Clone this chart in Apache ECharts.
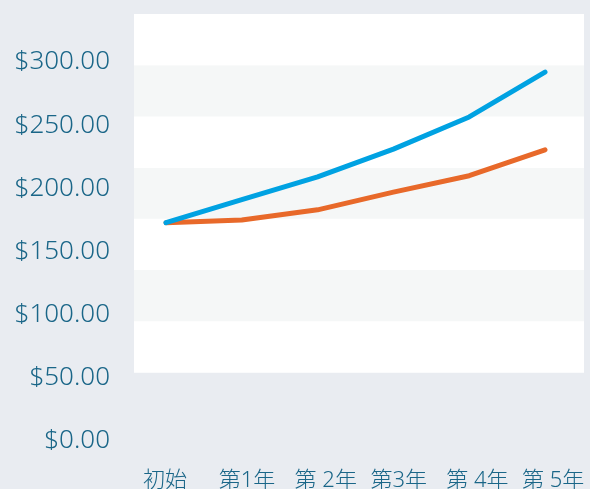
<!DOCTYPE html>
<html><head><meta charset="utf-8">
<script src="https://cdn.jsdelivr.net/npm/echarts@6/dist/echarts.min.js"></script>
<style>html,body{margin:0;padding:0;background:#e9ecf1;}#c{width:590px;height:489px;}</style>
</head><body><div id="c"></div>
<script>
const categories = ["初始", "第1年", "第 2年", "第3年", "第 4年", "第 5年"];
const blueValues = [172.8, 191, 209, 231, 256.5, 292];
const orangeValues = [172.8, 175, 183, 197, 210, 230.5];
const yTicks = [0, 50, 100, 150, 200, 250, 300];

const chart = echarts.init(document.getElementById('c'));
chart.setOption({
  backgroundColor: '#e9ecf1',
  animation: false,
  grid: [
    {left: 166, right: 45, top: 62, bottom: 48, containLabel: false, outerBoundsMode: 'none'},
    {left: 134, right: 6, top: 14, bottom: 116.5, show: true, backgroundColor: '#ffffff', borderWidth: 0, z: 0, outerBoundsMode: 'none'}
  ],
  xAxis: [
    {type: 'category', gridIndex: 0, data: categories, boundaryGap: false,
     axisLine: {show: false}, axisTick: {show: false}, splitLine: {show: false},
     axisLabel: {interval: 0, hideOverlap: false, color: '#1a6688', fontSize: 22,
       fontFamily: '"Noto Sans", "Noto Sans CJK JP", sans-serif', fontWeight: 300, margin: 29,
       align: 'left', padding: [0, 0, 0, -23]}},
    {type: 'value', gridIndex: 1, min: 0, max: 1, show: false}
  ],
  yAxis: [
    {type: 'value', gridIndex: 0, min: yTicks[0], max: yTicks[yTicks.length - 1], interval: 50,
     axisLine: {show: false}, axisTick: {show: false}, splitLine: {show: false},
     axisLabel: {color: '#1a6688', fontSize: 26, fontFamily: '"Noto Sans", sans-serif', fontWeight: 300, margin: 56,
       padding: [0, 0, 3, 0], formatter: v => '$' + v.toFixed(2)}},
    {type: 'value', gridIndex: 1, min: 0, max: 7, interval: 1,
     axisLine: {show: false}, axisTick: {show: false}, axisLabel: {show: false}, splitLine: {show: false},
     splitArea: {show: true, areaStyle: {color: ['#ffffff', '#f5f7f7']}}}
  ],
  series: [
    {type: 'line', xAxisIndex: 0, yAxisIndex: 0, data: orangeValues, symbol: 'none', z: 3,
     lineStyle: {color: '#e8692a', width: 5, cap: 'round', join: 'round'}},
    {type: 'line', xAxisIndex: 0, yAxisIndex: 0, data: blueValues, symbol: 'none', z: 4,
     lineStyle: {color: '#00a2e2', width: 5, cap: 'round', join: 'round'}}
  ]
});
</script></body></html>
